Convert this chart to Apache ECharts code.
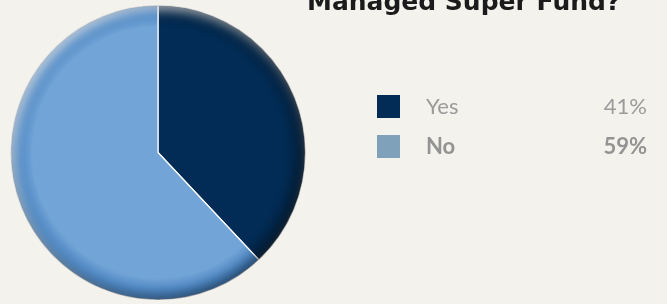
<!doctype html>
<html>
	<head>
		<meta charset="utf-8">
		<title></title>
		<script src="https://cdn.jsdelivr.net/npm/echarts@6/dist/echarts.min.js"></script>
		<style>
			html, body {
				margin: 0px;
				padding: 0px;
				background: #f3f2ed;
			}
			#pieChart {
				width: 667px;
				height: 304px;
			}
		</style>
	</head>

	<body>
		<div id="pieChart"></div>
	</body>

	<script type="text/javascript">
		//标题
		var titleText = 'Managed Super Fund?';
		//类目名
		var pieName = ['Yes', 'No'];
		//饼图扇区大小（按图中角度估读）
		var pieValue = [38, 62];
		//图例中显示的百分比
		var pieLabel = ['41%', '59%'];
		//扇区颜色
		var pieColor = ['#022c56', '#72a4d7'];
		//图例方块颜色
		var legendColor = ['#022c56', '#7fa1b9'];

		var bg = '#f3f2ed';
		var center = [158, 152.5];
		var radius = 147.5;

		var pieChart = echarts.init(document.getElementById('pieChart'));

		var pieData = [];
		var legendData = [];
		for (var i = 0; i < pieName.length; i++) {
			pieData.push({
				name: pieName[i],
				value: pieValue[i],
				itemStyle: {
					color: {
						type: 'radial',
						x: center[0],
						y: center[1],
						r: radius,
						global: true,
						colorStops: [{
							offset: 0,
							color: pieColor[i]
						}, {
							offset: 0.85,
							color: pieColor[i]
						}, {
							offset: 1,
							color: echarts.color.modifyHSL(pieColor[i], null, null, i == 0 ? 0.12 : 0.45)
						}]
					}
				}
			});
			legendData.push({
				name: pieName[i],
				itemStyle: {
					color: legendColor[i],
					borderWidth: 0
				}
			});
		}

		//边缘立体效果用的圆环（外圈足够大，超出画布）
		var ring = function(name, shadowColor, dx, dy) {
			return {
				name: name,
				type: 'pie',
				silent: true,
				z: 3,
				center: center,
				radius: [radius, 700],
				label: { show: false },
				labelLine: { show: false },
				emphasis: { disabled: true },
				animation: false,
				itemStyle: {
					color: bg,
					shadowBlur: 12,
					shadowColor: shadowColor,
					shadowOffsetX: dx,
					shadowOffsetY: dy
				},
				data: [{ name: name, value: 1 }]
			};
		};

		var option = {
			backgroundColor: bg,
			animation: false,
			title: {
				text: titleText,
				left: 307,
				top: -9,
				padding: 0,
				textStyle: {
					fontFamily: 'DejaVu Sans',
					fontWeight: 'bold',
					fontSize: 25,
					color: '#1b1b1b'
				}
			},
			legend: {
				orient: 'vertical',
				left: 377,
				top: 95,
				padding: 0,
				icon: 'rect',
				itemWidth: 23,
				itemHeight: 23,
				itemGap: 17,
				selectedMode: false,
				itemStyle: {
					borderWidth: 0
				},
				data: legendData,
				formatter: function(name) {
					var idx = pieName.indexOf(name);
					return idx == 0 ? '{a|' + name + '}{b|' + pieLabel[idx] + '}' : '{c|' + name + '}{d|' + pieLabel[idx] + '}';
				},
				textStyle: {
					fontFamily: 'Lato',
					fontSize: 22,
					color: '#9b9b9b',
					rich: {
						a: { fontFamily: 'Lato', fontSize: 22, color: '#9b9b9b', width: 110, padding: [0, 0, 0, 21] },
						b: { fontFamily: 'Lato', fontSize: 22, color: '#9b9b9b', width: 111, align: 'right' },
						c: { fontFamily: 'Lato', fontSize: 22, fontWeight: 'bold', color: '#939393', width: 110, padding: [0, 0, 0, 21] },
						d: { fontFamily: 'Lato', fontSize: 22, fontWeight: 'bold', color: '#939393', width: 111, align: 'right' }
					}
				}
			},
			series: [{
				name: titleText,
				type: 'pie',
				center: center,
				radius: radius,
				startAngle: 90,
				clockwise: true,
				label: { show: false },
				labelLine: { show: false },
				itemStyle: {
					borderColor: '#ffffff',
					borderWidth: 1.2
				},
				data: pieData
			},
			ring('light', 'rgba(255,255,255,0.8)', 4, 4),
			ring('dark', 'rgba(0,0,0,0.5)', -3, -3)]
		};

		pieChart.setOption(option);
	</script>

</html>
